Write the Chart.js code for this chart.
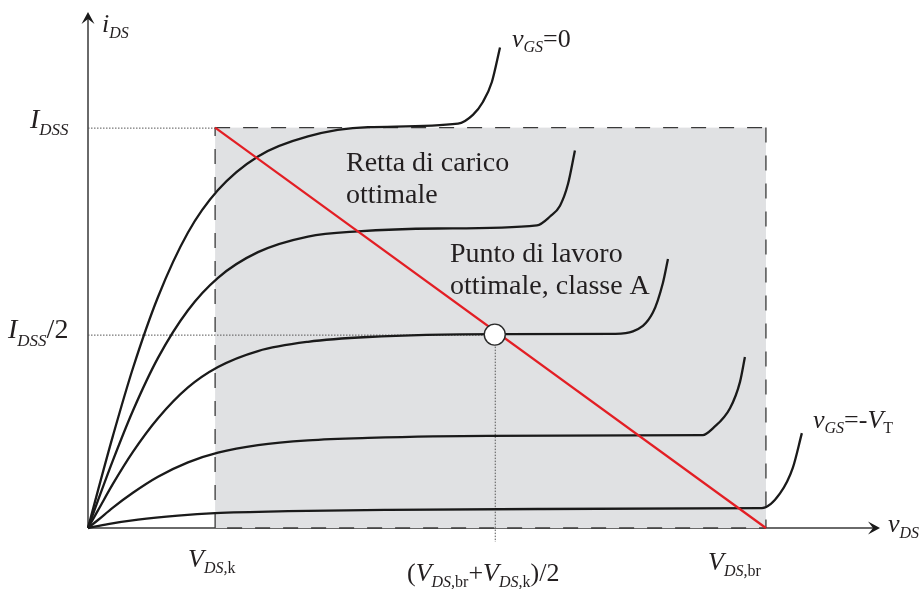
<!DOCTYPE html>
<html>
<head>
<meta charset="utf-8">
<script src="https://cdn.jsdelivr.net/npm/chart.js@4/dist/chart.umd.min.js"></script>
<style>
  html, body { margin: 0; padding: 0; background: #ffffff; }
  #wrap { width: 922px; height: 589px; }
</style>
</head>
<body>
<div id="wrap"><canvas id="c" width="922" height="589"></canvas></div>
<script>
// JFET output characteristics i_DS(v_DS), one curve per gate voltage.
// Units are arbitrary: V_DS,br = 40, I_DSS = 100.

const kneeVoltage = 7.5;        // V_DS,k
const breakdownVoltage = 40;    // V_DS,br
const saturationCurrent = 100;  // I_DSS
const xMax = 46.73;
const yMax = 128.9;

// v_GS = 0
const curve1X = [0, 0.59, 1.47, 2.65, 4.13, 5.90, 7.67, 10.03, 12.98, 16.52, 21.83, 22.71, 23.30, 23.83, 24.31];
const curve1Y = [0, 9.4, 23.0, 39.9, 57.7, 73.8, 84.4, 92.8, 97.8, 100.1, 101.0, 103.2, 106.4, 111.4, 120.0];
// intermediate gate voltage
const curve2X = [0, 0.59, 1.47, 2.65, 4.13, 5.90, 7.67, 10.03, 12.98, 15.93, 20.65, 26.49, 27.26, 27.85, 28.32, 28.73];
const curve2Y = [0, 6.9, 16.9, 29.3, 42.5, 54.4, 62.5, 68.9, 72.8, 74.1, 74.8, 75.6, 77.8, 80.5, 85.9, 94.3];
// curve through the class-A operating point
const curve3X = [0, 0.59, 1.47, 2.65, 4.13, 5.90, 7.67, 10.03, 12.98, 16.52, 24.13, 31.09, 32.15, 33.33, 33.92, 34.22];
const curve3Y = [0, 4.4, 11.0, 19.0, 27.4, 35.1, 40.2, 44.2, 46.5, 47.7, 48.4, 48.5, 49.1, 53.8, 61.2, 67.2];
const curve4X = [0, 0.59, 1.47, 2.65, 4.13, 5.90, 7.67, 10.03, 12.98, 16.52, 23.60, 36.28, 36.87, 37.88, 38.47, 38.76];
const curve4Y = [0, 2.0, 5.1, 8.8, 12.8, 16.4, 18.8, 20.7, 21.9, 22.5, 23.0, 23.2, 24.9, 29.9, 36.5, 42.7];
// v_GS = -V_T
const curve5X = [0, 1.18, 2.95, 5.31, 7.49, 11.8, 17.7, 26.55, 39.76, 40.83, 41.59, 42.12];
const curve5Y = [0, 0.99, 2.10, 3.09, 3.70, 4.20, 4.52, 4.74, 4.94, 8.64, 15.1, 23.7];

// optimal load line and class-A operating point
const loadLineX = [kneeVoltage, breakdownVoltage];
const loadLineY = [saturationCurrent, 0];
const qPoint = { x: 24.0, y: 48.3 };

const FONT = '"Liberation Serif", "Times New Roman", serif';
const INK = '#231f20';

function pts(xs, ys) { return xs.map((x, i) => ({ x, y: ys[i] })); }

function curveDataset(xs, ys) {
  return {
    data: pts(xs, ys),
    borderColor: '#1a1a1a',
    borderWidth: 2.3,
    pointRadius: 0,
    cubicInterpolationMode: 'monotone',
    fill: false,
    clip: false,
    order: 2
  };
}

// draws text made of main / subscript, italic / roman pieces
function rich(ctx, x, y, parts, main, sub, subDy) {
  let cx = x;
  for (const [t, s] of parts) {
    const isSub = s[0] === 's';
    const italic = s[s.length - 1] === 'i';
    ctx.font = (italic ? 'italic ' : '') + (isSub ? sub : main) + 'px ' + FONT;
    ctx.fillText(t, cx, y + (isSub ? subDy : 0));
    cx += ctx.measureText(t).width;
  }
}

function arrowHead(ctx, tipX, tipY, dir) {
  // dir: 'up' or 'right'
  ctx.beginPath();
  if (dir === 'up') {
    ctx.moveTo(tipX, tipY);
    ctx.lineTo(tipX - 6.5, tipY + 12);
    ctx.lineTo(tipX, tipY + 7);
    ctx.lineTo(tipX + 6.5, tipY + 12);
  } else {
    ctx.moveTo(tipX, tipY);
    ctx.lineTo(tipX - 12, tipY - 6.5);
    ctx.lineTo(tipX - 7, tipY);
    ctx.lineTo(tipX - 12, tipY + 6.5);
  }
  ctx.closePath();
  ctx.fillStyle = '#1a1a1a';
  ctx.fill();
}

const diagramPlugin = {
  id: 'diagram',
  beforeDatasetsDraw(chart) {
    const ctx = chart.ctx;
    const xs = chart.scales.x, ys = chart.scales.y;
    const x0 = xs.getPixelForValue(0), y0 = ys.getPixelForValue(0);
    const xk = xs.getPixelForValue(kneeVoltage), xb = xs.getPixelForValue(breakdownVoltage);
    const yI = ys.getPixelForValue(saturationCurrent);
    const qx = xs.getPixelForValue(qPoint.x), qy = ys.getPixelForValue(qPoint.y);
    ctx.save();
    // axes
    ctx.strokeStyle = '#6a6a6a';
    ctx.lineWidth = 2;
    ctx.beginPath();
    ctx.moveTo(x0, y0); ctx.lineTo(x0, chart.chartArea.top + 6);
    ctx.moveTo(x0, y0); ctx.lineTo(chart.chartArea.right - 6, y0);
    ctx.stroke();
    // safe operating area
    ctx.fillStyle = 'rgb(224,225,227)';
    ctx.fillRect(xk, yI, xb - xk, y0 - yI);
    ctx.strokeStyle = '#3a3a3a';
    ctx.lineWidth = 1.3;
    ctx.setLineDash([15, 13]);
    ctx.beginPath();
    ctx.moveTo(xk, y0); ctx.lineTo(xk, yI);
    ctx.moveTo(xk, yI); ctx.lineTo(xb, yI);
    ctx.moveTo(xb, yI); ctx.lineTo(xb, y0);
    ctx.moveTo(xk + 12, y0); ctx.lineTo(xb, y0);
    ctx.stroke();
    // dotted guide lines
    ctx.strokeStyle = '#555555';
    ctx.lineWidth = 1;
    ctx.setLineDash([1.5, 1.5]);
    ctx.beginPath();
    ctx.moveTo(x0, yI + 0.5); ctx.lineTo(xk, yI + 0.5);
    ctx.moveTo(x0, qy + 0.5); ctx.lineTo(qx, qy + 0.5);
    ctx.moveTo(qx + 0.5, qy); ctx.lineTo(qx + 0.5, y0 + 14);
    ctx.stroke();
    ctx.restore();
  },
  afterDraw(chart) {
    const ctx = chart.ctx;
    const x0 = chart.scales.x.getPixelForValue(0), y0 = chart.scales.y.getPixelForValue(0);
    ctx.save();
    arrowHead(ctx, x0, chart.chartArea.top, 'up');
    arrowHead(ctx, chart.chartArea.right, y0, 'right');

    ctx.fillStyle = INK;
    ctx.textBaseline = 'alphabetic';
    ctx.textAlign = 'left';
    const M = 26, S = 16;
    // axis titles
    rich(ctx, 102, 32, [['i', 'i'], ['DS', 'si']], M, S, 6);
    rich(ctx, 888, 532, [['v', 'i'], ['DS', 'si']], M, S, 6);
    // current ticks
    rich(ctx, 30, 128, [['I', 'i'], ['DSS', 'si']], 28, 17, 7);
    rich(ctx, 8, 338, [['I', 'i'], ['DSS', 'si'], ['/2', 'r']], 28, 17, 8);
    // voltage ticks
    rich(ctx, 188, 567, [['V', 'i'], ['DS,', 'si'], ['k', 'sr']], M, S, 6);
    rich(ctx, 407, 581, [['(', 'r'], ['V', 'i'], ['DS,', 'si'], ['br', 'sr'], ['+', 'r'], ['V', 'i'], ['DS,', 'si'], ['k', 'sr'], [')/2', 'r']], M, S, 6);
    rich(ctx, 708, 570, [['V', 'i'], ['DS,', 'si'], ['br', 'sr']], M, S, 6);
    // gate voltage labels
    rich(ctx, 512, 47, [['v', 'i'], ['GS', 'si'], ['=0', 'r']], M, S, 5);
    rich(ctx, 813, 428, [['v', 'i'], ['GS', 'si'], ['=-', 'r'], ['V', 'i'], ['T', 'sr']], M, S, 5);
    // annotations
    ctx.font = '28px ' + FONT;
    ctx.fillText('Retta di carico', 346, 171);
    ctx.fillText('ottimale', 346, 203);
    ctx.fillText('Punto di lavoro', 450, 262);
    ctx.fillText('ottimale, classe A', 450, 294);
    ctx.restore();
  }
};

new Chart(document.getElementById('c'), {
  type: 'line',
  data: {
    datasets: [
      {
        data: [qPoint],
        showLine: false,
        pointRadius: 10.5,
        pointBackgroundColor: '#ffffff',
        pointBorderColor: '#2a2a2a',
        pointBorderWidth: 1.4,
        clip: false,
        order: 0
      },
      {
        data: pts(loadLineX, loadLineY),
        borderColor: '#e31e24',
        borderWidth: 2.2,
        pointRadius: 0,
        fill: false,
        clip: false,
        order: 1
      },
      curveDataset(curve1X, curve1Y),
      curveDataset(curve2X, curve2Y),
      curveDataset(curve3X, curve3Y),
      curveDataset(curve4X, curve4Y),
      curveDataset(curve5X, curve5Y)
    ]
  },
  options: {
    responsive: false,
    devicePixelRatio: 1,
    animation: false,
    layout: { padding: { left: 88, right: 42, top: 6, bottom: 61 } },
    scales: {
      x: { type: 'linear', min: 0, max: xMax, display: false },
      y: { type: 'linear', min: 0, max: yMax, display: false }
    },
    plugins: { legend: { display: false }, tooltip: { enabled: false } },
    events: []
  },
  plugins: [diagramPlugin]
});
</script>
</body>
</html>
